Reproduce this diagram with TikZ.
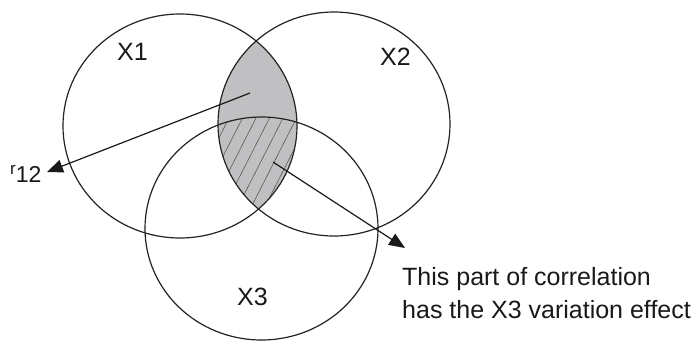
\documentclass[tikz,border=0pt]{standalone}
\usepackage{fontspec}
\setmainfont{Liberation Sans}
\usetikzlibrary{arrows.meta,shapes.geometric}
\definecolor{lensgray}{RGB}{192,191,194}
\definecolor{linec}{RGB}{35,35,35}
\begin{document}
\begin{tikzpicture}[x=1pt,y=-1pt,
  venn/.style={ellipse,draw=linec,line width=1.2pt,inner sep=0pt,minimum width=233pt,minimum height=224pt},
  lbl/.style={inner sep=0pt,anchor=base west,font=\fontsize{25}{30}\selectfont,text=black!90},
  arr/.style={line width=1.2pt,draw=black!90,-{Triangle[length=16pt,width=13pt]}},
  hatch/.style={draw=black!65,line width=0.6pt}]
\useasboundingbox (0,0) rectangle (697,341);
\fill[white] (0,0) rectangle (697,341);
% lens fill
\begin{scope}
\clip (180,126) ellipse [x radius=117pt, y radius=112pt];
\fill[lensgray] (334,124) ellipse [x radius=116pt, y radius=112pt];
\end{scope}
% hatch in triple intersection
\begin{scope}
\clip (180,126) ellipse [x radius=117pt, y radius=112pt];
\clip (334,124) ellipse [x radius=116pt, y radius=112pt];
\clip (261.5,228.5) ellipse [x radius=116.5pt, y radius=111.5pt];
\foreach \i in {-6,...,6}{
  \draw[hatch] (255+13.5*\i-61,240) -- (255+13.5*\i+61,0);
}
\end{scope}
% circles
\node[venn,minimum width=234pt] (c1) at (180,126) {};
\node[venn,minimum width=232pt] (c2) at (334,124) {};
\node[venn,minimum height=223pt] (c3) at (261.5,228.5) {};
% labels
\node[lbl] (x1) at (117,60) {X1};
\node[lbl] (x2) at (380,65) {X2};
\node[lbl] (x3) at (237,305) {X3};
\node[lbl,font=\fontsize{23}{26}\selectfont] (r12) at (10,182) {\raisebox{8pt}{\fontsize{17}{18}\selectfont r}12};
\node[lbl] (t1) at (402,285) {This part of correlation};
\node[lbl] (t2) at (402,318) {has the X3 variation effect};
% arrows
\coordinate (a1s) at (250,93);
\coordinate (a1e) at (47,172);
\coordinate (a2s) at (273,162);
\coordinate (a2e) at (405,248);
\draw[arr] (a1s) -- (a1e);
\draw[arr] (a2s) -- (a2e);
\end{tikzpicture}
\end{document}
